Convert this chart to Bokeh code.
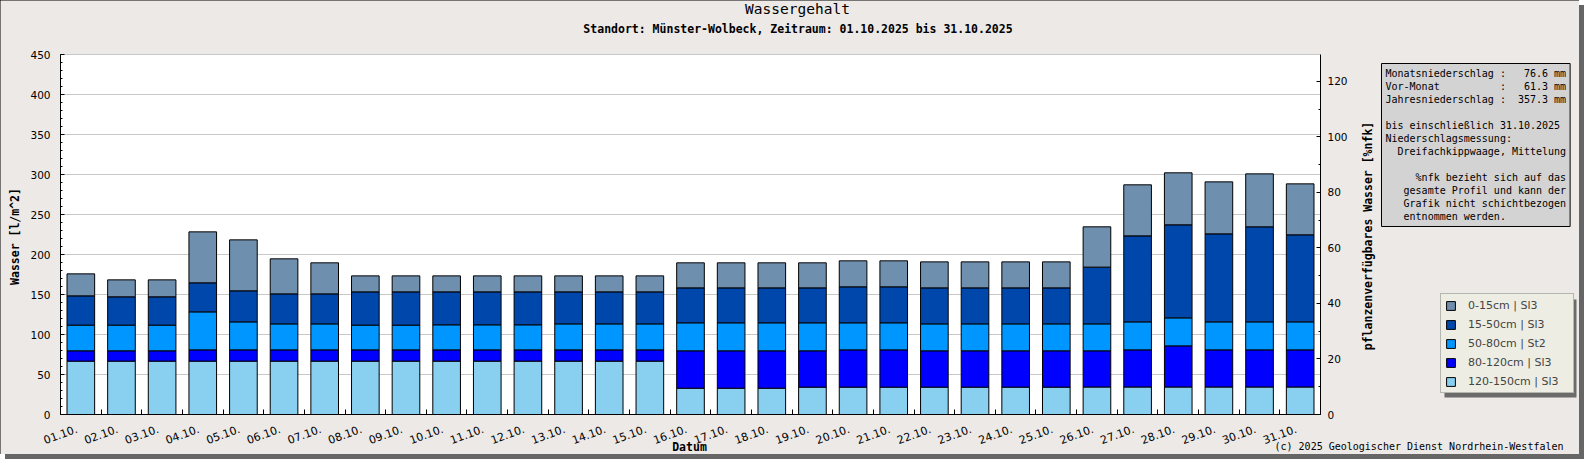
import math
import re
from bokeh.plotting import figure
from bokeh.models import (Range1d, LinearAxis, FixedTicker, SingleIntervalTicker, Label,
                          Legend, LegendItem, BoxAnnotation, ColumnDataSource)
from bokeh.embed import file_html
from bokeh.resources import INLINE

# ---------------- data ----------------
days = ["01.10.", "02.10.", "03.10.", "04.10.", "05.10.", "06.10.", "07.10.", "08.10.",
        "09.10.", "10.10.", "11.10.", "12.10.", "13.10.", "14.10.", "15.10.", "16.10.",
        "17.10.", "18.10.", "19.10.", "20.10.", "21.10.", "22.10.", "23.10.", "24.10.",
        "25.10.", "26.10.", "27.10.", "28.10.", "29.10.", "30.10.", "31.10."]

layer_120_150 = [66.7, 66.7, 66.7, 66.7, 66.7, 66.7, 66.7, 66.7, 66.7, 66.7, 66.7, 66.7,
                 66.7, 66.7, 66.7, 32.9, 32.9, 32.9, 34.2, 34.2, 34.2, 34.2, 34.2, 34.2,
                 34.2, 34.4, 34.4, 34.4, 34.4, 34.4, 34.4]
layer_80_120 = [12.9, 12.9, 12.9, 14.1, 14.1, 14.1, 14.1, 14.1, 14.1, 14.1, 14.1, 14.1,
                14.1, 14.1, 14.1, 46.7, 46.7, 46.7, 45.4, 46.6, 46.6, 45.4, 45.4, 45.4,
                45.4, 45.2, 46.4, 51.4, 46.4, 46.4, 46.4]
layer_50_80 = [32.1, 32.1, 32.1, 47.5, 35.0, 32.5, 32.5, 30.9, 30.9, 31.3, 31.3, 31.3,
               32.5, 32.5, 32.5, 35.0, 35.0, 35.0, 35.0, 33.8, 33.8, 33.7, 33.7, 33.7,
               33.7, 33.7, 35.0, 35.0, 35.0, 35.0, 35.0]
layer_15_50 = [36.6, 35.4, 35.4, 36.3, 38.8, 37.5, 37.5, 41.6, 41.6, 41.2, 41.2, 41.2,
               40.0, 40.0, 40.0, 43.7, 43.7, 43.7, 43.7, 45.0, 45.0, 45.0, 45.0, 45.0,
               45.0, 70.9, 107.5, 116.3, 110.0, 118.8, 108.8]
layer_0_15 = [27.5, 21.2, 21.2, 63.7, 63.7, 43.8, 38.8, 20.0, 20.0, 20.0, 20.0, 20.0,
              20.0, 20.0, 20.0, 31.3, 31.3, 31.3, 31.3, 32.5, 32.5, 32.5, 32.5, 32.5,
              32.5, 50.4, 63.8, 65.0, 65.0, 66.2, 63.7]

layer_keys = ["l120_150", "l80_120", "l50_80", "l15_50", "l0_15"]
layer_labels = ["120-150cm | Sl3", "80-120cm | Sl3", "50-80cm | St2", "15-50cm | Sl3", "0-15cm | Sl3"]
layer_colors = ["#89CFF0", "#0000FF", "#0096FF", "#0047AB", "#6F8FAF"]

y_left_max = 450
y_right_max = 129.7

info_lines = [
    "Monatsniederschlag :   76.6 mm",
    "Vor-Monat          :   61.3 mm",
    "Jahresniederschlag :  357.3 mm",
    "",
    "bis einschließlich 31.10.2025",
    "Niederschlagsmessung:",
    "  Dreifachkippwaage, Mittelung",
    "",
    "     %nfk bezieht sich auf das",
    "   gesamte Profil und kann der",
    "   Grafik nicht schichtbezogen",
    "   entnommen werden.",
]

title_text = "Wassergehalt"
subtitle_text = "Standort: Münster-Wolbeck, Zeitraum: 01.10.2025 bis 31.10.2025"
x_label = "Datum"
y_label = "Wasser [l/m^2]"
y2_label = "pflanzenverfügbares Wasser [%nfk]"
credit = "(c) 2025 Geologischer Dienst Nordrhein-Westfalen"

# ---------------- layout (pixels) ----------------
W, H = 1579, 454
PL, PR, PT, PB = 60, 1320, 54, 414      # plot area in canvas pixels
BG = "#ECE9E7"
MONO = "DejaVu Sans Mono"
SANS = "DejaVu Sans"

n = len(days)
ux = n / (PR - PL)                      # x units per pixel
uy = y_left_max / (PB - PT)             # y units per pixel
uy2 = y_right_max / (PB - PT)

xs = [i + 0.5 for i in range(n)]
src = ColumnDataSource(dict(x=xs, l120_150=layer_120_150, l80_120=layer_80_120,
                            l50_80=layer_50_80, l15_50=layer_15_50, l0_15=layer_0_15))

p = figure(width=W, height=H,
           x_range=Range1d(-PL * ux, n + (W - PR) * ux),
           y_range=Range1d(-(H - PB) * uy, y_left_max + PT * uy),
           output_backend="svg", toolbar_location=None,
           min_border=0, min_border_left=0, min_border_right=0,
           min_border_top=0, min_border_bottom=0,
           background_fill_color=BG, border_fill_color=BG, outline_line_color=None)
p.title.visible = False
p.styles = {"outline": "1px solid black", "outline-offset": "-1px",
            "box-shadow": "5px 5px 0 #666666"}
p.extra_y_ranges = {"pct": Range1d(-(H - PB) * uy2, y_right_max + PT * uy2)}

# white plot area
p.add_layout(BoxAnnotation(left=0, right=n, bottom=0, top=y_left_max,
                           fill_color="white", fill_alpha=1.0, line_color=None,
                           level="image"))

rs = p.vbar_stack(layer_keys, x="x", width=0.68, color=layer_colors, line_color="black",
                  line_width=1, source=src)

# x axis (date labels sit slightly left of the bar centres, as in the original)
label_shift = 4 * ux
label_pos = [x - label_shift for x in xs]
xa = p.xaxis[0]
xa.fixed_location = 0
xa.bounds = (0, n)
xa.ticker = FixedTicker(ticks=label_pos, minor_ticks=list(range(1, n)))
xa.major_label_overrides = {x: d for x, d in zip(label_pos, days)}
xa.major_label_orientation = 0.35
xa.major_tick_line_color = None
xa.major_tick_in = 0
xa.major_tick_out = 0
xa.minor_tick_line_color = "black"
xa.minor_tick_in = 5
xa.minor_tick_out = 0
xa.major_label_standoff = 14
xa.major_label_text_font = SANS
xa.major_label_text_font_size = "11px"
xa.major_label_text_color = "black"
xa.axis_line_color = "black"

# left axis
ya = p.yaxis[0]
ya.fixed_location = 0
ya.bounds = (0, y_left_max)
ya.ticker = SingleIntervalTicker(interval=50, num_minor_ticks=5)
ya.major_tick_in = 4
ya.major_tick_out = 0
ya.minor_tick_in = 2
ya.minor_tick_out = 0
ya.major_tick_line_color = "black"
ya.minor_tick_line_color = "black"
ya.major_label_standoff = 10
ya.major_label_text_font = SANS
ya.major_label_text_font_size = "10.5px"
ya.major_label_text_color = "black"
ya.axis_line_color = "black"

# right axis
ra = LinearAxis(y_range_name="pct", fixed_location=n, bounds=(0, y_right_max),
                ticker=SingleIntervalTicker(interval=20, num_minor_ticks=2))
ra.major_tick_in = 4
ra.major_tick_out = 0
ra.minor_tick_in = 2
ra.minor_tick_out = 0
ra.major_label_standoff = 7
ra.major_label_text_font = SANS
ra.major_label_text_font_size = "10.5px"
ra.major_label_text_color = "black"
p.add_layout(ra, "right")

p.xgrid.visible = False
p.ygrid.grid_line_color = "#c8c8c8"
p.ygrid.ticker = ya.ticker
try:
    p.ygrid[0].cross_bounds = (0, n)
except Exception:
    p.ygrid.visible = False
    gy = [v for v in range(50, y_left_max + 1, 50)]
    p.segment(x0=[0] * len(gy), x1=[n] * len(gy), y0=gy, y1=gy,
              line_color="#c8c8c8", line_width=1, level="underlay")

# ---------------- texts ----------------
def add_label(text, x, y, size, bold=False, align="center", angle=0.0, font=MONO):
    lab = Label(x=x, y=y, x_units="canvas", y_units="canvas", text=text,
                text_font=font, text_font_size=size,
                text_font_style="bold" if bold else "normal",
                text_align=align, text_baseline="middle", angle=angle,
                text_color="black")
    p.add_layout(lab)
    return lab

add_label(title_text, 797, 8.5, "14.5px")
add_label(subtitle_text, 797.5, 28, "11.5px", bold=True)
add_label(y_label, 14, 236, "11.5px", bold=True, angle=math.pi / 2)
add_label(y2_label, 1367, 235.5, "11.5px", bold=True, angle=math.pi / 2)
add_label(x_label, 689, 446, "11.5px", bold=True)
add_label(credit, 1563, 446, "10px", align="right")


def keep_spaces(s):
    # keep monospace alignment: leading spaces and runs of spaces become no-break spaces
    s = re.sub(r"^ +", lambda m: "\u00a0" * len(m.group(0)), s)
    return re.sub(r" {2,}", lambda m: "\u00a0" * (len(m.group(0)) - 1) + " ", s)


# info box (shadow + box)
info_text = "\n".join(keep_spaces(s) for s in info_lines)
for dx, fill, talpha, bcol in [(4, "#6e6e6e", 0.0, None), (0, "#D3D3D3", 1.0, "black")]:
    lab = Label(x=1381 + dx, y=63 + dx, x_units="canvas", y_units="canvas", text=info_text,
                text_font=MONO, text_font_size="10px", text_line_height=1.19,
                text_align="left", text_baseline="top", text_color="black", text_alpha=talpha,
                background_fill_color=fill, background_fill_alpha=1.0,
                border_line_color=bcol, padding=4)
    p.add_layout(lab)

# legend shadow + legend
LG_L, LG_B, LG_W, LG_H = 1440, 393, 132, 98
shadow = BoxAnnotation(left=LG_L + 4, right=LG_L + LG_W + 4, top=LG_B - LG_H + 4, bottom=LG_B + 4,
                       left_units="canvas", right_units="canvas",
                       top_units="canvas", bottom_units="canvas",
                       fill_color="#6b6b6b", fill_alpha=1.0, line_color=None)
p.add_layout(shadow)

items = [LegendItem(label=lbl, renderers=[r]) for lbl, r in zip(layer_labels, rs)][::-1]
legend = Legend(items=items, location=(LG_L, H - LG_B), orientation="vertical",
                background_fill_color="#EDEDE3", background_fill_alpha=1.0,
                border_line_color="#808080", border_line_width=1,
                label_text_font=SANS, label_text_font_size="11px",
                glyph_height=11, glyph_width=11, label_height=14, label_width=101,
                spacing=5, padding=4, label_standoff=12, margin=0)
p.add_layout(legend)

html = file_html(p, INLINE)
with open("out.html", "w", encoding="utf-8") as f:
    f.write(html)
